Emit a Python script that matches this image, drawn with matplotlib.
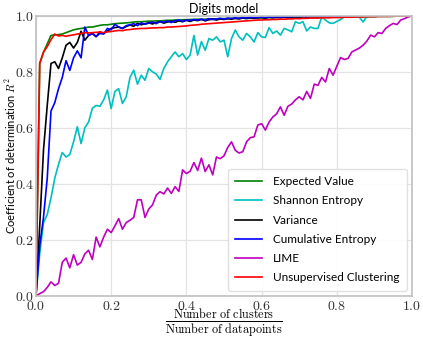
import numpy as np
import matplotlib
matplotlib.use("Agg")
import matplotlib.pyplot as plt
from matplotlib.ticker import FuncFormatter

plt.rcParams['mathtext.fontset'] = 'cm'
plt.rcParams['font.family'] = ['Lato', 'DejaVu Sans']

# fraction of clusters (x) and R^2 per method
frac = np.linspace(0, 1, 101)

expected_value = [0,
    0.83, 0.87, 0.90, 0.93, 0.932, 0.933, 0.935, 0.94, 0.945, 0.95,
    0.953, 0.955, 0.957, 0.96, 0.96, 0.963, 0.966, 0.968, 0.968, 0.97,
    0.972, 0.973, 0.974, 0.975, 0.976, 0.978, 0.979, 0.979, 0.98, 0.981,
    0.981, 0.982, 0.982, 0.983, 0.984, 0.984, 0.985, 0.985, 0.986, 0.986,
    0.987, 0.987, 0.988, 0.988, 0.988, 0.989, 0.989, 0.989, 0.99, 0.99,
    0.99, 0.991, 0.991, 0.991, 0.992, 0.992, 0.992, 0.993, 0.993, 0.993,
    0.993, 0.994, 0.994, 0.994, 0.994, 0.995, 0.995, 0.995, 0.995, 0.995,
    0.996, 0.996, 0.996, 0.996, 0.996, 0.996, 0.996, 0.996, 0.996, 0.996,
    0.997, 0.997, 0.997, 0.997, 0.997, 0.997, 0.997, 0.997, 0.997, 0.997,
    0.998, 0.998, 0.998, 0.998, 0.998, 0.999, 0.999, 0.999, 0.999, 1.0]

shannon = [0,
    0.15, 0.262, 0.29, 0.35, 0.42, 0.47, 0.512, 0.496, 0.505, 0.55,
    0.604, 0.544, 0.60, 0.621, 0.67, 0.68, 0.677, 0.70, 0.735, 0.669,
    0.73, 0.74, 0.687, 0.711, 0.78, 0.806, 0.756, 0.788, 0.77, 0.812,
    0.80, 0.792, 0.773, 0.812, 0.836, 0.854, 0.871, 0.854, 0.865, 0.844,
    0.86, 0.93, 0.86, 0.908, 0.877, 0.919, 0.913, 0.925, 0.907, 0.913,
    0.854, 0.919, 0.949, 0.925, 0.913, 0.937, 0.925, 0.907, 0.94, 0.925,
    0.923, 0.958, 0.937, 0.946, 0.931, 0.955, 0.95, 0.943, 0.979, 0.973,
    0.979, 0.946, 0.96, 0.955, 0.955, 0.996, 0.985, 0.975, 0.973, 0.98,
    0.987, 0.996, 0.997, 0.997, 0.997, 0.995, 0.978, 0.998, 0.999, 0.999,
    0.999, 0.999, 1.0, 1.0, 1.0, 1.0, 1.0, 1.0, 1.0, 1.0]

variance = [0,
    0.25, 0.52, 0.68, 0.83, 0.836, 0.812, 0.85, 0.895, 0.905, 0.885,
    0.905, 0.945, 0.913, 0.93, 0.937, 0.925, 0.943, 0.937, 0.945, 0.955,
    0.958, 0.96, 0.955, 0.962, 0.967, 0.963, 0.973, 0.968, 0.972, 0.975,
    0.971, 0.976, 0.979, 0.974, 0.978, 0.981, 0.977, 0.982, 0.979, 0.984,
    0.98, 0.985, 0.983, 0.987, 0.982, 0.986, 0.988, 0.985, 0.989, 0.987,
    0.99, 0.988, 0.991, 0.989, 0.992, 0.99, 0.993, 0.991, 0.993, 0.994,
    0.992, 0.995, 0.993, 0.995, 0.994, 0.996, 0.995, 0.996, 0.997, 0.996,
    0.997, 0.996, 0.997, 0.998, 0.997, 0.998, 0.998, 0.997, 0.998, 0.998,
    0.999, 0.998, 0.999, 0.999, 0.998, 0.999, 0.999, 0.999, 1.0, 0.999,
    1.0, 1.0, 0.999, 1.0, 1.0, 1.0, 1.0, 1.0, 1.0, 1.0]

cumulative = [0,
    0.18, 0.28, 0.42, 0.66, 0.69, 0.74, 0.78, 0.84, 0.805, 0.85,
    0.875, 0.85, 0.96, 0.93, 0.937, 0.927, 0.937, 0.935, 0.955, 0.95,
    0.97, 0.96, 0.955, 0.965, 0.968, 0.972, 0.965, 0.975, 0.97, 0.974,
    0.978, 0.972, 0.98, 0.977, 0.982, 0.976, 0.983, 0.985, 0.98, 0.986,
    0.983, 0.987, 0.985, 0.988, 0.984, 0.99, 0.987, 0.989, 0.991, 0.988,
    0.992, 0.99, 0.993, 0.991, 0.994, 0.992, 0.995, 0.993, 0.994, 0.996,
    0.994, 0.996, 0.995, 0.997, 0.995, 0.997, 0.996, 0.998, 0.997, 0.998,
    0.998, 0.997, 0.998, 0.999, 0.998, 0.999, 0.998, 0.999, 0.999, 1.0,
    0.999, 1.0, 0.999, 1.0, 1.0, 1.0, 1.0, 1.0, 1.0, 1.0,
    1.0, 1.0, 1.0, 1.0, 1.0, 1.0, 1.0, 1.0, 1.0, 1.0]

lime = [0,
    0.008, 0.015, 0.03, 0.05, 0.037, 0.045, 0.12, 0.135, 0.10, 0.147,
    0.11, 0.12, 0.15, 0.163, 0.13, 0.21, 0.175, 0.21, 0.238, 0.226,
    0.25, 0.276, 0.238, 0.262, 0.27, 0.28, 0.343, 0.343, 0.28, 0.31,
    0.325, 0.36, 0.372, 0.364, 0.385, 0.366, 0.39, 0.373, 0.45, 0.437,
    0.445, 0.476, 0.448, 0.492, 0.444, 0.468, 0.432, 0.496, 0.49, 0.50,
    0.53, 0.55, 0.52, 0.51, 0.515, 0.55, 0.565, 0.568, 0.61, 0.615,
    0.592, 0.621, 0.639, 0.65, 0.675, 0.645, 0.677, 0.685, 0.70, 0.711,
    0.70, 0.73, 0.705, 0.756, 0.752, 0.78, 0.764, 0.812, 0.788, 0.82,
    0.851, 0.844, 0.848, 0.871, 0.878, 0.885, 0.895, 0.91, 0.931, 0.925,
    0.94, 0.937, 0.955, 0.965, 0.973, 0.969, 0.985, 0.99, 0.996, 1.0]

unsupervised = [0,
    0.83, 0.87, 0.89, 0.915, 0.935, 0.928, 0.93, 0.927, 0.93, 0.932,
    0.935, 0.937, 0.94, 0.939, 0.94, 0.941, 0.942, 0.94, 0.943, 0.944,
    0.946, 0.948, 0.947, 0.95, 0.951, 0.953, 0.954, 0.955, 0.955, 0.956,
    0.957, 0.957, 0.958, 0.958, 0.96, 0.96, 0.961, 0.962, 0.963, 0.964,
    0.966, 0.967, 0.968, 0.97, 0.971, 0.972, 0.973, 0.974, 0.975, 0.976,
    0.977, 0.978, 0.979, 0.98, 0.981, 0.982, 0.983, 0.984, 0.985, 0.985,
    0.986, 0.986, 0.987, 0.987, 0.988, 0.988, 0.989, 0.989, 0.99, 0.99,
    0.991, 0.991, 0.992, 0.992, 0.992, 0.993, 0.993, 0.993, 0.994, 0.994,
    0.994, 0.995, 0.995, 0.995, 0.996, 0.996, 0.996, 0.997, 0.997, 0.997,
    0.998, 0.998, 0.998, 0.998, 0.999, 0.999, 0.999, 0.999, 1.0, 1.0]

series = [
    ("Expected Value", expected_value, 'g'),
    ("Shannon Entropy", shannon, 'c'),
    ("Variance", variance, 'k'),
    ("Cumulative Entropy", cumulative, 'b'),
    ("LIME", lime, 'm'),
    ("Unsupervised Clustering", unsupervised, 'r'),
]

fig = plt.figure(figsize=(4.23, 3.37), dpi=100)
ax = fig.add_axes([0.085, 0.122, 0.889, 0.831])

for name, vals, col in series:
    ax.plot(frac, vals, color=col, lw=1.2, label=name)

ax.set_xlim(0, 1)
ax.set_ylim(0, 1)
ax.set_xticks([0, 0.2, 0.4, 0.6, 0.8, 1.0])
ax.set_yticks([0, 0.2, 0.4, 0.6, 0.8, 1.0])
fmt = FuncFormatter(lambda v, p: r'$%.1f$' % v)
ax.xaxis.set_major_formatter(fmt)
ax.yaxis.set_major_formatter(fmt)
ax.tick_params(length=0, labelsize=10, labelcolor='#333333')
ax.tick_params(axis='y', pad=1)
ax.tick_params(axis='x', pad=2)
ax.grid(True, color='#e3e3e3', lw=0.9)
ax.set_axisbelow(True)
for s in ax.spines.values():
    s.set_color('#c0c0c0')
    s.set_linewidth(1.2)

ax.set_title("Digits model", fontsize=9, pad=2)
ax.set_ylabel(r"Coefficient of determination $R^2$", fontsize=8, va='center')
ax.yaxis.set_label_coords(-0.068, 0.5)
ax.set_xlabel(r'$\frac{\mathrm{Number\ of\ clusters}}{\mathrm{Number\ of\ datapoints}}$',
              fontsize=12.5, labelpad=-3)

ax.legend(loc='lower right', fontsize=8.5, framealpha=0.9, edgecolor='#dddddd',
          handlelength=2.3, handletextpad=0.9, labelspacing=0.7, borderpad=0.6,
          borderaxespad=0.45)

fig.savefig("out.png", dpi=100)
